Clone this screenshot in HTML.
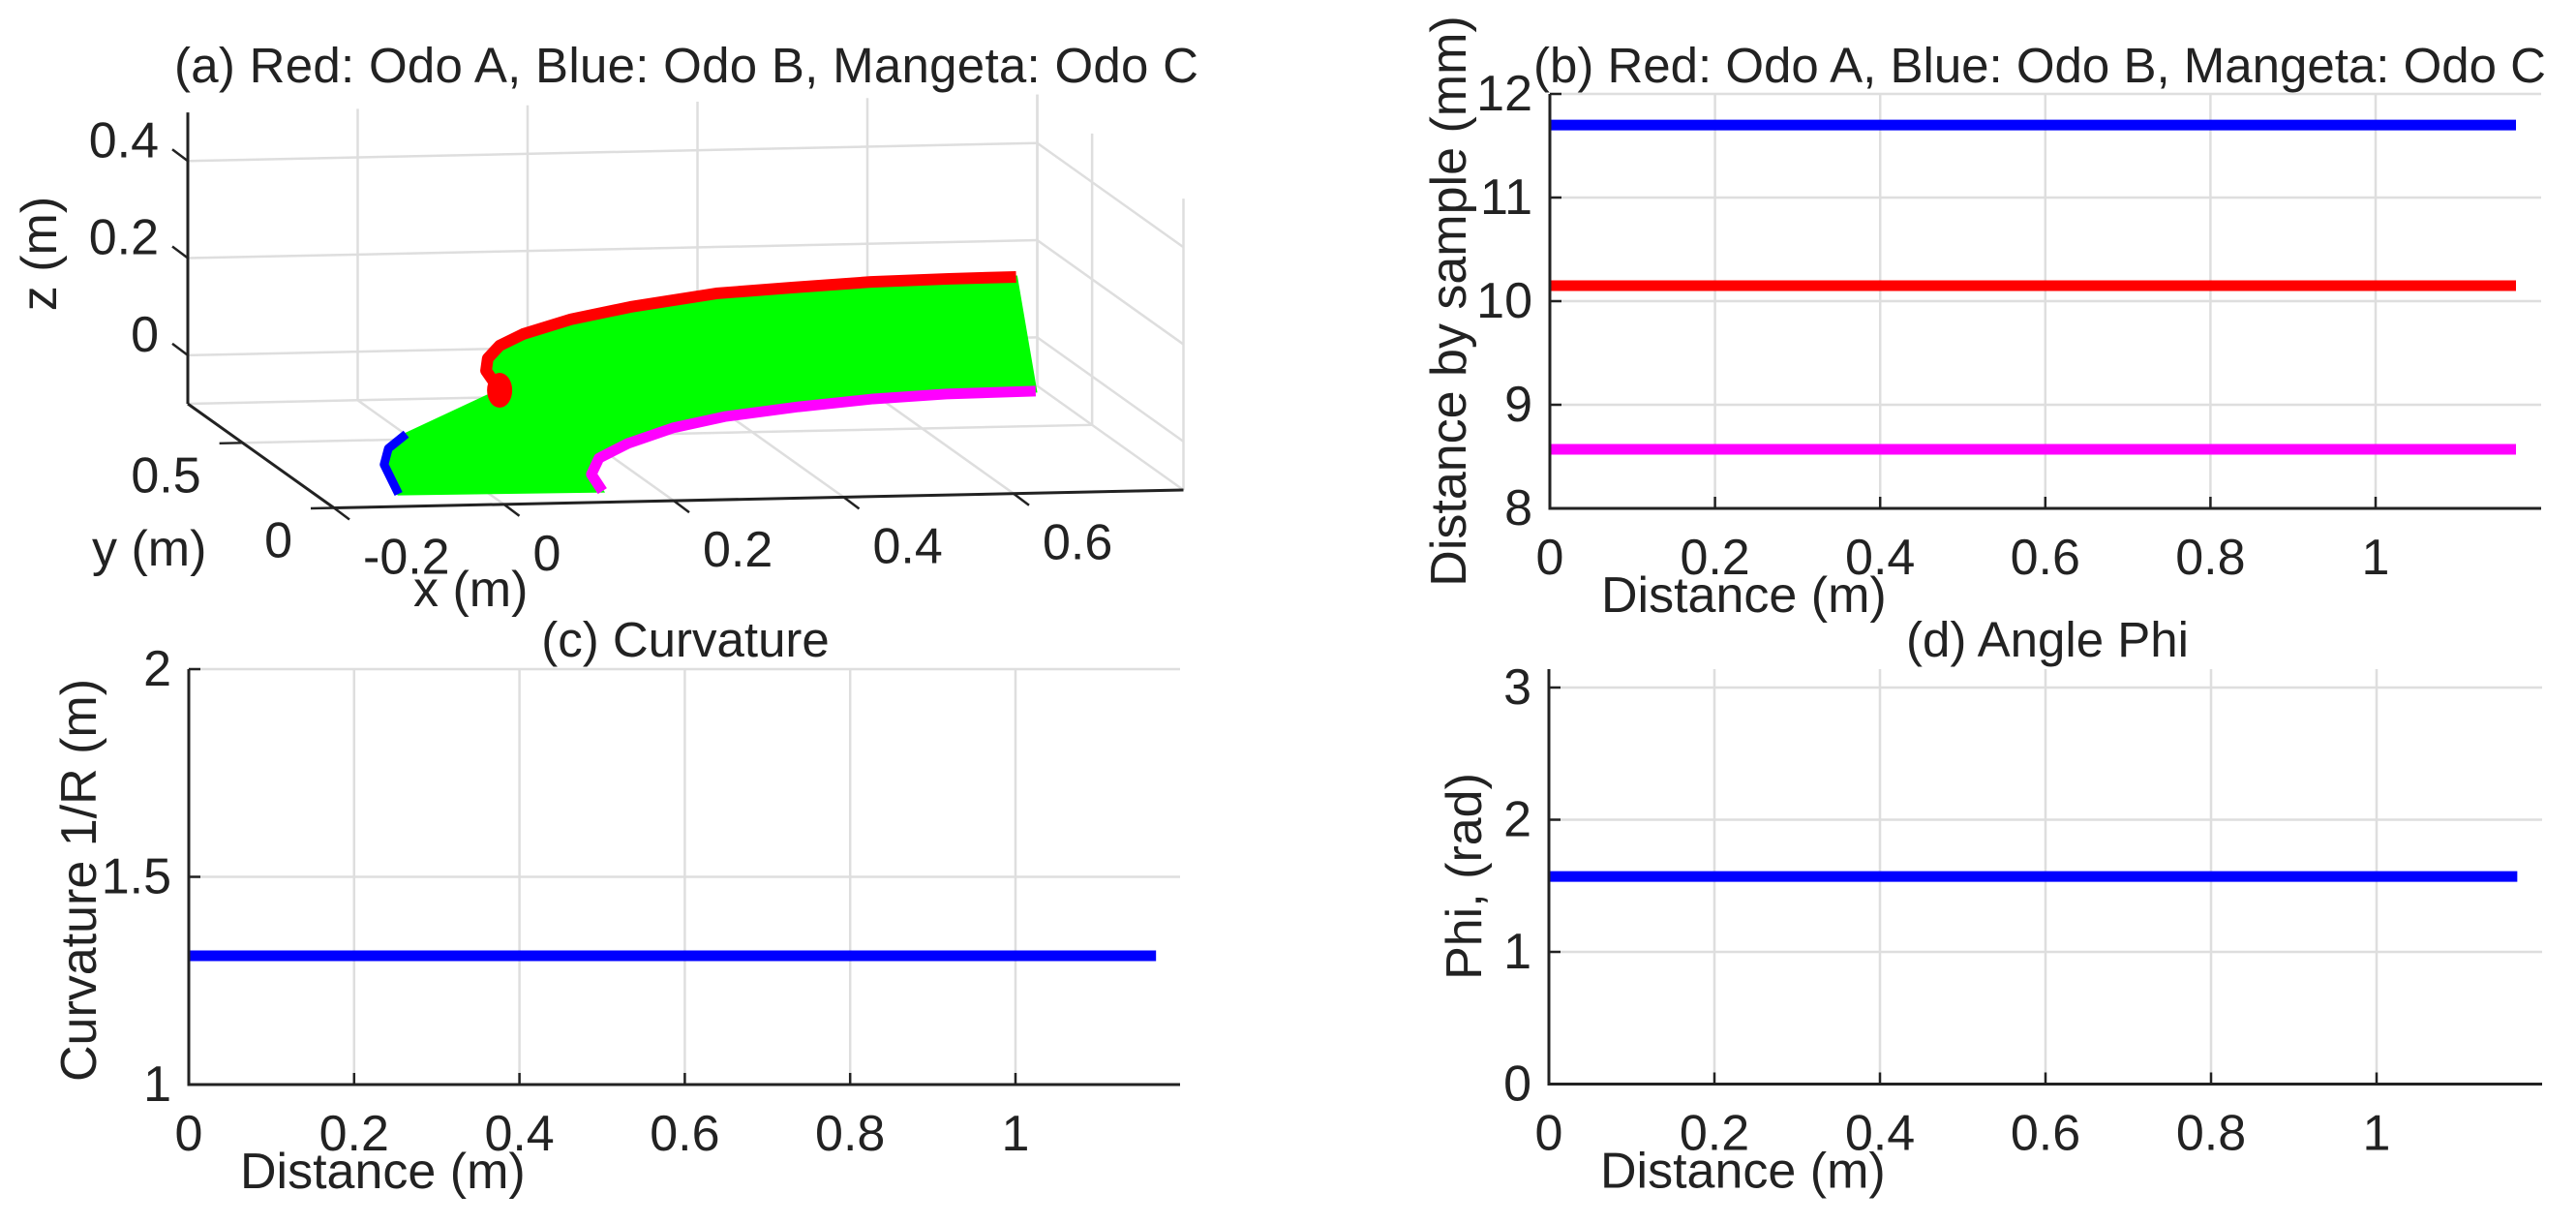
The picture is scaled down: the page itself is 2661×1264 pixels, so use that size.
<!DOCTYPE html>
<html><head><meta charset="utf-8"><style>
html,body{margin:0;padding:0;background:#fff;}
svg{display:block;font-family:"Liberation Sans",Arial,sans-serif;}
</style></head><body>
<svg id="fig" width="2661" height="1264" viewBox="0 0 2661 1264" xmlns="http://www.w3.org/2000/svg">
<rect x="0" y="0" width="2661" height="1264" fill="#fff"/>
<g id="pa"></g>
<g id="pb"></g>
<g id="pc"></g>
<g id="pd"></g>
</svg>
<script>
// ---------- Panel (a) data: 3D trajectories (m) ----------
const blueX = [-0.124,-0.141,-0.136,-0.115];
const blueY = [0,0,0,0];
const blueZ = [-0.074,-0.013,0.020,0.049];
const redX = [-0.005,-0.021,-0.019,-0.005,0.023,0.079,0.149,0.250,0.341,0.432,0.524,0.603];
const redY = [0,0,0,0,0,0,0,0,0,0,0,0];
const redZ = [0.135,0.176,0.201,0.227,0.250,0.278,0.301,0.325,0.334,0.342,0.345,0.346];
const magX = [0.116,0.103,0.112,0.146,0.199,0.260,0.347,0.435,0.521,0.626];
const magY = [0,0,0,0,0,0,0,0,0,0];
const magZ = [-0.077,-0.042,-0.009,0.020,0.050,0.071,0.088,0.101,0.108,0.110];
const xTicks3 = [-0.2,0,0.2,0.4,0.6];
const yTicks3 = [0,0.5];
const zTicks3 = [0,0.2,0.4];
const xLim3=[-0.2,0.8], yLim3=[0,0.8], zLim3=[-0.1,0.5];

// ---------- Panels (b)(c)(d) data ----------
const distB = [0,1.17];
const odoA = [10.15,10.15];
const odoB = [11.7,11.7];
const odoC = [8.57,8.57];
const bYTicks = [8,9,10,11,12];
const distC = [0,1.17];
const curv = [1.31,1.31];
const cYTicks = [1,1.5,2];
const cYLabels = ["1","1.5","2"];
const distD = [0,1.17];
const phi = [1.5708,1.5708];
const dYTicks = [0,1,2,3];
const xTicks2 = [0,0.2,0.4,0.6,0.8,1];
const xTickLabels2 = ["0","0.2","0.4","0.6","0.8","1"];

const NS="http://www.w3.org/2000/svg";
function mk(parent,tag,attrs,text){const e=document.createElementNS(NS,tag);for(const k in attrs)e.setAttribute(k,attrs[k]);if(text!==undefined)e.textContent=text;parent.appendChild(e);return e;}
const GRID="#dedede", FS=52;

function P(x,y,z){
  const X=(x-xLim3[0])/(xLim3[1]-xLim3[0]), Y=(y-yLim3[0])/(yLim3[1]-yLim3[0]), Z=(z-zLim3[0])/(zLim3[1]-zLim3[0]);
  return [345+X*877.5-Y*151, 524.5-X*18.5-Y*107.5-Z*3009*(zLim3[1]-zLim3[0])/6];
}
function ln(g,a,b,st,w){return mk(g,'line',{x1:a[0],y1:a[1],x2:b[0],y2:b[1],stroke:st,'stroke-width':w});}
const pa=document.getElementById('pa');
let t=mk(pa,'text',{x:709,y:85,'font-size':51,'text-anchor':'middle',fill:'#222',textLength:1058},'(a) Red: Odo A, Blue: Odo B, Mangeta: Odo C');

const g3=mk(pa,'g',{});

const [x0,x1]=xLim3,[y0,y1]=yLim3,[z0,z1]=zLim3;
xTicks3.concat([x1]).forEach(v=>{ if(v>x0) ln(g3,P(v,y1,z0),P(v,y1,z1),GRID,2.5);});
zTicks3.forEach(v=>{ln(g3,P(x0,y1,v),P(x1,y1,v),GRID,2.5); ln(g3,P(x1,y1,v),P(x1,y0,v),GRID,2.5);});
xTicks3.concat([x1]).forEach(v=>{ if(v>x0) ln(g3,P(v,y1,z0),P(v,y0,z0),GRID,2.5);});
yTicks3.concat([y1]).forEach(v=>{ if(v>y0) ln(g3,P(x0,v,z0),P(x1,v,z0),GRID,2.5);});
yTicks3.forEach(v=>{ln(g3,P(x1,v,z0),P(x1,v,z1),GRID,2.5);});
ln(g3,P(x1,y1,z0),P(x1,y1,z1),GRID,2.5);
function pts(X,Y,Z){return X.map((v,i)=>P(v,Y[i],Z[i]));}
const bp=pts(blueX,blueY,blueZ), rp=pts(redX,redY,redZ), mp=pts(magX,magY,magZ);
const poly=bp.concat(rp).concat(mp.slice().reverse());
let e=mk(pa,'polygon',{points:poly.map(p=>p.join(',')).join(' '),fill:'#00ff00',stroke:'#00ff00','stroke-width':3});

e=mk(pa,'polyline',{points:bp.map(p=>p.join(',')).join(' '),fill:'none',stroke:'#0000ff','stroke-width':9,'stroke-linejoin':'round'});

e=mk(pa,'polyline',{points:mp.map(p=>p.join(',')).join(' '),fill:'none',stroke:'#ff00ff','stroke-width':11,'stroke-linejoin':'round'});

e=mk(pa,'polyline',{points:rp.map(p=>p.join(',')).join(' '),fill:'none',stroke:'#ff0000','stroke-width':12,'stroke-linejoin':'round'});

e=mk(pa,'ellipse',{cx:rp[0][0],cy:rp[0][1],rx:13,ry:18,fill:'#ff0000'});

const ax=mk(pa,'g',{});

ln(ax,P(x0,y1,z0),P(x0,y1,z1),'#222',3);
ln(ax,P(x0,y1,z0),P(x0,y0,z0),'#222',3);
ln(ax,P(x0,y0,z0),P(x1,y0,z0),'#222',3);
zTicks3.forEach(v=>{const p=P(x0,y1,v);ln(ax,p,[p[0]-16,p[1]-12],'#222',2.5);
  const tt=mk(ax,'text',{x:p[0]-30,y:p[1]-21,'font-size':FS,'text-anchor':'end','dominant-baseline':'central',fill:'#222'},String(v));
  });
xTicks3.forEach(v=>{const p=P(v,y0,z0);ln(ax,p,[p[0]+16,p[1]+12],'#222',2.5);
  const tt=mk(ax,'text',{x:p[0]+30,y:p[1]+68,'font-size':FS,'text-anchor':'start',fill:'#222'},String(v));
  });
yTicks3.forEach(v=>{const p=P(x0,v,z0);ln(ax,p,[p[0]-24,p[1]+0.5],'#222',2.5);
  const tt=mk(ax,'text',{x:p[0]-43,y:p[1]+34,'font-size':FS,'text-anchor':'end','dominant-baseline':'central',fill:'#222'},String(v));
  });
t=mk(pa,'text',{x:427,y:626,'font-size':52,fill:'#222'},'x (m)');
t=mk(pa,'text',{x:95,y:584,'font-size':52,fill:'#222'},'y (m)');
t=mk(pa,'text',{x:0,y:0,'font-size':52,'text-anchor':'middle',fill:'#222',transform:'translate(58,262) rotate(-90)'},'z (m)');

function panel(g,cfg){
  const sx=v=>cfg.L+(v-cfg.xmin)*cfg.xs, sy=v=>cfg.B-(v-cfg.ymin)*cfg.ys;
  const gg=mk(g,'g',{});
  xTicks2.forEach(v=>{ if(v>cfg.xmin) mk(gg,'line',{x1:sx(v),y1:cfg.T,x2:sx(v),y2:cfg.B,stroke:GRID,'stroke-width':2.5});});
  cfg.yt.forEach(v=>{ if(v>cfg.ymin) mk(gg,'line',{x1:cfg.L,y1:sy(v),x2:cfg.R,y2:sy(v),stroke:GRID,'stroke-width':2.5});});
  cfg.series.forEach(s=>{
    const pl=mk(g,'polyline',{points:s.x.map((v,i)=>sx(v)+','+sy(s.y[i])).join(' '),fill:'none',stroke:s.c,'stroke-width':11});
    
  });
  const a=mk(g,'g',{});
  mk(a,'line',{x1:cfg.L,y1:cfg.T,x2:cfg.L,y2:cfg.B+1.5,stroke:'#222','stroke-width':3});
  mk(a,'line',{x1:cfg.L,y1:cfg.B,x2:cfg.R,y2:cfg.B,stroke:'#222','stroke-width':3});
  xTicks2.forEach((v,i)=>{mk(a,'line',{x1:sx(v),y1:cfg.B,x2:sx(v),y2:cfg.B-12,stroke:'#222','stroke-width':2.5});
    const tt=mk(a,'text',{x:sx(v),y:cfg.B+68,'font-size':FS,'text-anchor':'middle',fill:'#222'},xTickLabels2[i]);
    });
  cfg.yt.forEach((v,i)=>{mk(a,'line',{x1:cfg.L,y1:sy(v),x2:cfg.L+12,y2:sy(v),stroke:'#222','stroke-width':2.5});
    const tt=mk(a,'text',{x:cfg.L-18,y:sy(v),'font-size':FS,'text-anchor':'end','dominant-baseline':'central',fill:'#222'},cfg.yl[i]);
    });
  let tt=mk(g,'text',{x:cfg.L+53,y:cfg.B+107,'font-size':52,fill:'#222'},'Distance (m)');
  
  tt=mk(g,'text',{x:0,y:0,'font-size':52,'text-anchor':'middle',fill:'#222',transform:'translate('+cfg.ylx+','+cfg.yly+') rotate(-90)'},cfg.ylabel);
  
  tt=mk(g,'text',{x:cfg.tx,y:cfg.ty,'font-size':51,'text-anchor':'middle',fill:'#222'},cfg.title);
  
}
panel(document.getElementById('pb'),{L:1601,R:2625,T:97,B:525,xmin:0,xs:853,ymin:8,ys:107,yt:bYTicks,yl:bYTicks.map(String),
  series:[{x:distB,y:odoB,c:'#0000ff',name:'odo-b-line'},{x:distB,y:odoA,c:'#ff0000',name:'odo-a-line'},{x:distB,y:odoC,c:'#ff00ff',name:'odo-c-line'}],
  ylabel:'Distance by sample (mm)',ylx:1514,yly:311,title:'(b) Red: Odo A, Blue: Odo B, Mangeta: Odo C',tx:2107,ty:85});
panel(document.getElementById('pc'),{L:195,R:1219,T:691,B:1120,xmin:0,xs:854,ymin:1,ys:429,yt:cYTicks,yl:cYLabels,
  series:[{x:distC,y:curv,c:'#0000ff',name:'curvature-line'}],
  ylabel:'Curvature 1/R (m)',ylx:99,yly:909,title:'(c) Curvature',tx:708,ty:678});
panel(document.getElementById('pd'),{L:1600,R:2626,T:691,B:1119.5,xmin:0,xs:855,ymin:0,ys:136.5,yt:dYTicks,yl:dYTicks.map(String),
  series:[{x:distD,y:phi,c:'#0000ff',name:'phi-line'}],
  ylabel:'Phi, (rad)',ylx:1530,yly:905,title:'(d) Angle Phi',tx:2115,ty:678});
</script>
</body></html>
